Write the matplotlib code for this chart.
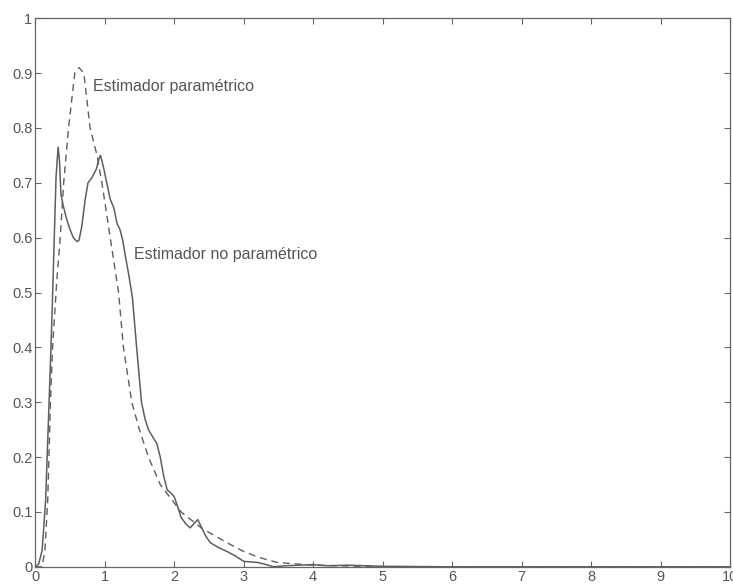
import numpy as np
import matplotlib.pyplot as plt

# non-parametric (kernel) density estimate
np_x = [0, 0.05, 0.1, 0.15, 0.2, 0.24, 0.27, 0.3, 0.33, 0.35, 0.37, 0.4, 0.45, 0.5, 0.55, 0.6,
        0.63, 0.67, 0.72, 0.76, 0.82, 0.88, 0.92, 0.94, 0.98, 1.03, 1.08, 1.13, 1.18, 1.22,
        1.26, 1.3, 1.35, 1.4, 1.46, 1.53, 1.58, 1.63, 1.7, 1.75, 1.8, 1.85, 1.9, 1.95, 2.0,
        2.05, 2.1, 2.17, 2.23, 2.28, 2.34, 2.4, 2.46, 2.52, 2.64, 2.76, 2.88, 3.0, 3.1, 3.2,
        3.3, 3.43, 3.6, 3.8, 4.0, 4.2, 4.5, 5.0, 6.0, 10.0]
np_y = [0, 0.005, 0.03, 0.12, 0.3, 0.45, 0.58, 0.71, 0.765, 0.74, 0.68, 0.66, 0.635, 0.615, 0.6, 0.593,
        0.595, 0.62, 0.67, 0.70, 0.71, 0.725, 0.745, 0.75, 0.73, 0.70, 0.67, 0.655, 0.625, 0.615,
        0.595, 0.565, 0.53, 0.49, 0.40, 0.30, 0.27, 0.25, 0.235, 0.225, 0.2, 0.165, 0.14, 0.135, 0.128,
        0.11, 0.09, 0.078, 0.071, 0.078, 0.086, 0.07, 0.055, 0.044, 0.035, 0.028, 0.02, 0.01, 0.009, 0.008,
        0.005, 0.0, 0.002, 0.003, 0.004, 0.002, 0.003, 0.001, 0.0, 0.0]

# parametric fit
par_x = [0, 0.1, 0.14, 0.18, 0.22, 0.25, 0.28, 0.31, 0.36, 0.41, 0.48, 0.57, 0.63, 0.7, 0.79, 0.89,
         0.96, 1.08, 1.2, 1.27, 1.39, 1.5, 1.63, 1.8, 2.1, 2.4, 2.76, 3.0, 3.2, 3.48, 4.0, 5.0, 10.0]
par_y = [0, 0, 0.03, 0.12, 0.3, 0.4, 0.46, 0.52, 0.6, 0.7, 0.8, 0.9, 0.91, 0.9, 0.8, 0.75,
         0.7, 0.6, 0.5, 0.4, 0.3, 0.25, 0.2, 0.15, 0.1, 0.07, 0.044, 0.028, 0.018, 0.008, 0.003, 0.0, 0.0]

xticks = list(range(0, 11))
yticks = [0, 0.1, 0.2, 0.3, 0.4, 0.5, 0.6, 0.7, 0.8, 0.9, 1]
ytick_labels = ["0", "0.1", "0.2", "0.3", "0.4", "0.5", "0.6", "0.7", "0.8", "0.9", "1"]

plt.rcParams['font.family'] = ['Liberation Sans', 'DejaVu Sans']

fig = plt.figure(figsize=(7.33, 5.88), dpi=100)
ax = fig.add_axes([0.048, 0.036, 0.948, 0.933])

line_col = "#5e5e5e"
ax.plot(np_x, np_y, color=line_col, lw=1.1, ls='-')
ax.plot(par_x, par_y, color=line_col, lw=1.0, ls=(0, (5, 3.5)))

ax.text(0.83, 0.876, "Estimador paramétrico", fontsize=11.5, color="#555555", va='center')
ax.text(1.42, 0.57, "Estimador no paramétrico", fontsize=11.5, color="#555555", va='center')

ax.set_xlim(0, 10)
ax.set_ylim(0, 1)
ax.set_xticks(xticks)
ax.set_yticks(yticks)
ax.set_yticklabels(ytick_labels)
ax.tick_params(direction='in', top=True, right=True, length=4, width=0.8,
               labelsize=10.5, colors="#666666", labelcolor="#555555", pad=2)
for s in ax.spines.values():
    s.set_color("#666666")
    s.set_linewidth(0.9)

fig.savefig("out.png", dpi=100)
